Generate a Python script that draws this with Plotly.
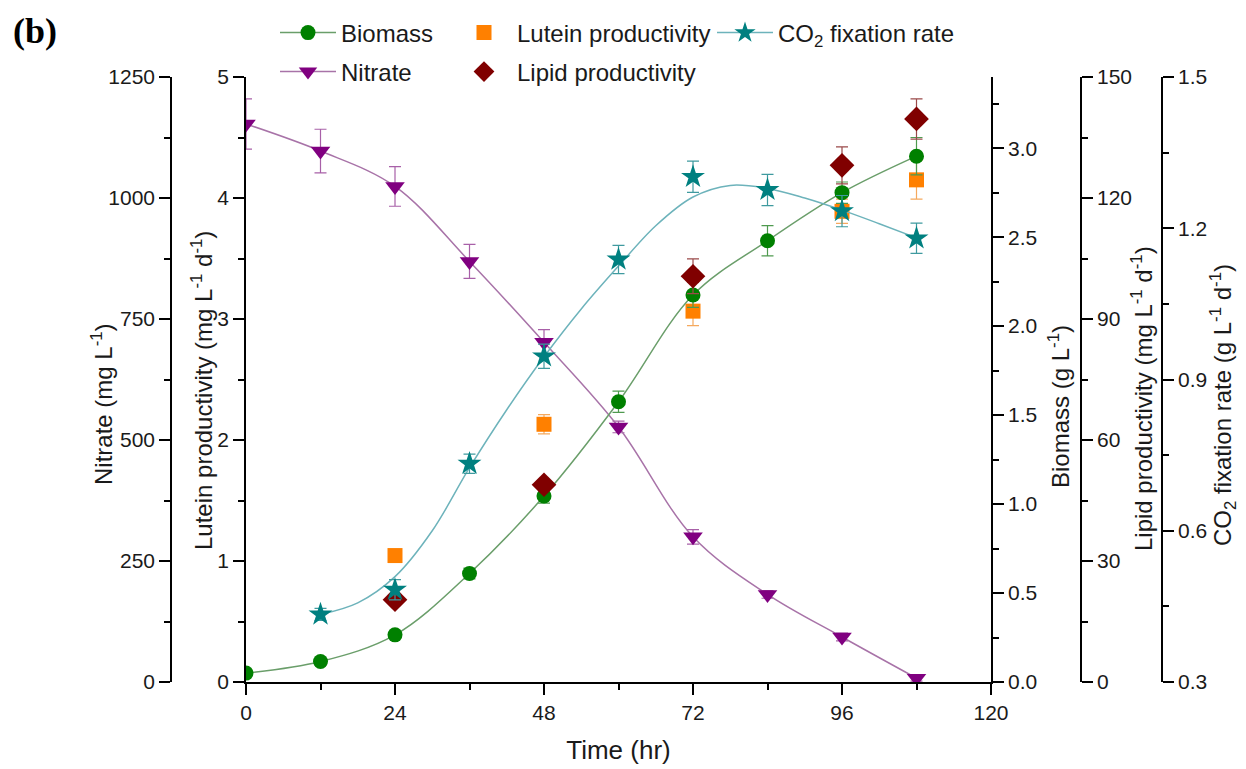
import plotly.graph_objects as go

# ---------------- data ----------------
time = [0, 12, 24, 36, 48, 60, 72, 84, 96, 108]
biomass = [0.05, 0.115, 0.265, 0.61, 1.045, 1.575, 2.175, 2.48, 2.75, 2.955]
biomass_err = [0.02, 0.02, 0.02, 0.03, 0.04, 0.06, 0.07, 0.085, 0.06, 0.105]
nitrate = [1153, 1097, 1024, 869, 702, 527, 300, 181, 93, 8]
nitrate_err = [52, 45, 41, 35, 26, 12, 15, 8, 8, 6]

co2_time = [12, 24, 36, 48, 60, 72, 84, 96, 108]
co2 = [0.434, 0.483, 0.733, 0.946, 1.138, 1.302, 1.276, 1.234, 1.18]
co2_err = [0.012, 0.02, 0.019, 0.024, 0.028, 0.031, 0.031, 0.031, 0.03]
co2_fit_time = [12, 18, 24, 30, 36, 42, 48, 54, 60, 66, 72, 78, 84, 90, 96, 102, 108]
co2_fit = [0.434, 0.457, 0.509, 0.60, 0.725, 0.84, 0.945, 1.04, 1.125, 1.205,
           1.262, 1.285, 1.279, 1.26, 1.236, 1.209, 1.181]

prod_time = [24, 48, 72, 96, 108]
lutein = [1.045, 2.13, 3.065, 3.89, 4.15]
lutein_err = [0.03, 0.08, 0.12, 0.1, 0.16]
lipid = [20.4, 48.9, 100.6, 128.1, 139.6]
lipid_err = [1.0, 1.2, 4.3, 4.6, 5.0]

x_ticks = [0, 24, 48, 72, 96, 120]
nitrate_ticks = [0, 250, 500, 750, 1000, 1250]
lutein_ticks = [0, 1, 2, 3, 4, 5]
biomass_ticks = [0.0, 0.5, 1.0, 1.5, 2.0, 2.5, 3.0]
lipid_ticks = [0, 30, 60, 90, 120, 150]
co2_ticks = [0.3, 0.6, 0.9, 1.2, 1.5]

# ---------------- styling ----------------
FONT = "Liberation Sans, Arial, sans-serif"
TXT = "#1a1a1a"
# the page body adds an 8px margin, so the figure is 16px smaller than the window
W, H = 1238, 761
ML, MR, MT, MB = 92, 60, 69, 87
PW = W - ML - MR          # 1086
PH = H - MT - MB          # 605
OFF = 8


def px_x(p):
    """window x pixel -> paper fraction"""
    return (p - OFF - ML) / PW


def px_y(p):
    """window y pixel -> paper fraction"""
    return (H - MB - (p - OFF)) / PH


fig = go.Figure()

# fitted CO2 curve (behind)
fig.add_trace(go.Scatter(x=co2_fit_time, y=co2_fit, yaxis="y5", mode="lines",
                         line=dict(color="#6db3bb", width=1.5, shape="spline"),
                         showlegend=False, hoverinfo="skip"))

# Lutein
fig.add_trace(go.Scatter(x=prod_time, y=lutein, yaxis="y", mode="markers",
                         name="Lutein productivity", legend="legend2",
                         marker=dict(symbol="square", size=15, color="#ff8000"),
                         error_y=dict(type="data", array=lutein_err, color="#f5a95e",
                                      thickness=1.2, width=6)))
# Lipid
fig.add_trace(go.Scatter(x=prod_time, y=lipid, yaxis="y4", mode="markers",
                         name="Lipid productivity", legend="legend5",
                         marker=dict(symbol="diamond", size=19, color="#800000"),
                         error_y=dict(type="data", array=lipid_err, color="#9a4a4a",
                                      thickness=1.2, width=6)))
# Biomass
fig.add_trace(go.Scatter(x=time, y=biomass, yaxis="y3", mode="lines+markers",
                         name="Biomass", legend="legend",
                         line=dict(color="#6a9e6a", width=1.5, shape="spline"),
                         marker=dict(symbol="circle", size=15, color="#008000"),
                         error_y=dict(type="data", array=biomass_err, color="#4f9a4f",
                                      thickness=1.2, width=6)))
# Nitrate
fig.add_trace(go.Scatter(x=time, y=nitrate, yaxis="y2", mode="lines+markers",
                         name="Nitrate", legend="legend4",
                         line=dict(color="#a873a8", width=1.5, shape="spline"),
                         marker=dict(symbol="triangle-down", size=17, color="#800080"),
                         error_y=dict(type="data", array=nitrate_err, color="#a860a8",
                                      thickness=1.2, width=6)))
# CO2 points
fig.add_trace(go.Scatter(x=co2_time, y=co2, yaxis="y5", mode="markers",
                         showlegend=False,
                         marker=dict(symbol="star", size=18, color="#008080"),
                         error_y=dict(type="data", array=co2_err, color="#3f9a9f",
                                      thickness=1.2, width=6)))
# CO2 legend entry (line + star)
fig.add_trace(go.Scatter(x=[None], y=[None], yaxis="y5", mode="lines+markers",
                         name="CO<sub>2</sub> fixation rate", legend="legend3",
                         line=dict(color="#6db3bb", width=1.5),
                         marker=dict(symbol="star", size=18, color="#008080")))

tickfont = dict(family=FONT, size=21, color=TXT)
common = dict(showgrid=False, zeroline=False, showline=True, linecolor="black",
              linewidth=1.6, ticks="outside", ticklen=11, tickwidth=1.6,
              tickcolor="black", tickfont=tickfont, automargin=False)


def minor(step):
    return dict(dtick=step, ticks="outside", ticklen=6, tickwidth=1.6, tickcolor="black")


fig.update_layout(
    width=W, height=H,
    margin=dict(l=ML, r=MR, t=MT, b=MB, autoexpand=False),
    paper_bgcolor="white", plot_bgcolor="white",
    font=dict(family=FONT, color=TXT),
    xaxis=dict(domain=[px_x(246), px_x(991)], range=[0, 120], tickvals=x_ticks,
               minor=minor(12), anchor="y",
               title=dict(text="Time (hr)", font=dict(family=FONT, size=26, color=TXT),
                          standoff=18),
               **common),
    yaxis=dict(range=[0, 5], tickvals=lutein_ticks, minor=minor(0.5), side="left",
               anchor="x", **common),
    yaxis2=dict(range=[0, 1250], tickvals=nitrate_ticks, minor=minor(125), side="left",
                overlaying="y", anchor="free", position=px_x(171), **common),
    yaxis3=dict(range=[0, 3.4], tickvals=biomass_ticks, tickformat=".1f",
                minor=minor(0.25), side="right", overlaying="y", anchor="x", **common),
    yaxis4=dict(range=[0, 150], tickvals=lipid_ticks, minor=minor(15), side="right",
                overlaying="y", anchor="free", position=px_x(1081), **common),
    yaxis5=dict(range=[0.3, 1.5], tickvals=co2_ticks, tickformat=".1f",
                minor=minor(0.15), side="right", overlaying="y", anchor="free",
                position=px_x(1162), **common),
)

legfont = dict(family=FONT, size=24, color=TXT)


def leg(xp, yp):
    return dict(x=px_x(xp), y=px_y(yp), xanchor="left", yanchor="middle",
                orientation="v", bgcolor="rgba(0,0,0,0)", font=legfont,
                itemwidth=56, borderwidth=0)


fig.update_layout(
    legend=leg(275, 33),
    legend2=leg(451, 33),
    legend3=leg(712, 33),
    legend4=leg(275, 72),
    legend5=leg(451, 72),
)

ann_font = dict(family=FONT, size=24, color=TXT)
annotations = [
    dict(text="<b>(b)</b>", x=px_x(11), y=px_y(31), xanchor="left", yanchor="middle",
         font=dict(family="Liberation Serif, Times New Roman, serif", size=36, color="black"),
         showarrow=False),
    dict(text="Nitrate (mg L<sup>-1</sup>)", x=px_x(102), y=px_y(404), textangle=-90,
         font=ann_font, showarrow=False, xanchor="center", yanchor="middle"),
    dict(text="Lutein productivity (mg L<sup>-1</sup> d<sup>-1</sup>)", x=px_x(202),
         y=px_y(391), textangle=-90, font=ann_font, showarrow=False,
         xanchor="center", yanchor="middle"),
    dict(text="Biomass (g L<sup>-1</sup>)", x=px_x(1059), y=px_y(407), textangle=-90,
         font=ann_font, showarrow=False, xanchor="center", yanchor="middle"),
    dict(text="Lipid productivity (mg L<sup>-1</sup> d<sup>-1</sup>)", x=px_x(1142),
         y=px_y(399), textangle=-90, font=ann_font, showarrow=False,
         xanchor="center", yanchor="middle"),
    dict(text="CO<sub>2</sub> fixation rate (g L<sup>-1</sup> d<sup>-1</sup>)", x=px_x(1223),
         y=px_y(405), textangle=-90, font=ann_font, showarrow=False,
         xanchor="center", yanchor="middle"),
]
for a in annotations:
    a["xref"] = "paper"
    a["yref"] = "paper"
fig.update_layout(annotations=annotations)

fig.write_html("out.html")
